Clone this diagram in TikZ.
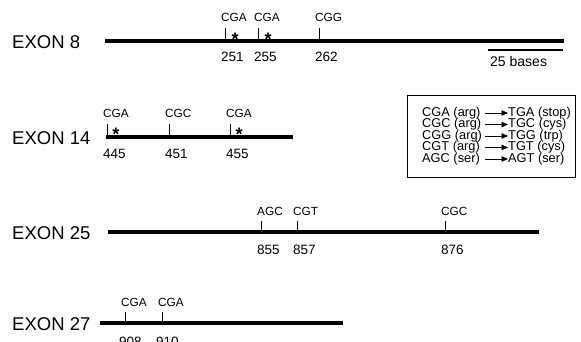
\documentclass[tikz,border=0pt]{standalone}
\usepackage{fontspec}
\setmainfont{Liberation Sans}
\usetikzlibrary{arrows.meta, positioning}

\begin{document}
\begin{tikzpicture}[x=1pt, y=-1pt,
    exon/.style={line width=3.4pt},
    site/.style={line width=1pt},
    exonname/.style={font=\fontsize{18.5}{18.5}\selectfont, anchor=west, inner sep=0pt},
    codon/.style={font=\fontsize{11.8}{11.8}\selectfont, anchor=base west, inner sep=0pt},
    residue/.style={font=\fontsize{13.5}{13.5}\selectfont, anchor=base west, inner sep=0pt},
    hit/.style={font=\fontsize{18}{18}\selectfont\bfseries, anchor=north, inner sep=0pt},
    keytext/.style={font=\fontsize{12.8}{12.8}\selectfont, anchor=west, inner sep=0pt}]
\useasboundingbox (0,0) rectangle (581,342);

% exon 8
\node[exonname] (x8) at (12,42) {EXON 8};
\coordinate (a8) at (105,41);
\coordinate (b8) at (564,41);
\draw[exon] (a8) -- (b8);
\foreach \n/\x/\c in {251/225/CGA, 255/258/CGA, 262/319/CGG}{
  \coordinate (t\n) at (\x,41);
  \draw[site] (t\n) -- ++(0,-13) coordinate (u\n);
  \node[codon] (c\n) at ([xshift=-4pt, yshift=6pt]u\n) {\c};
  \node[residue] (n\n) at ([xshift=-4pt, yshift=-21pt]t\n) {\n};
}
\node[hit] (s251) at ([xshift=10pt, yshift=8pt]t251) {*};
\node[hit] (s255) at ([xshift=10pt, yshift=8pt]t255) {*};
% scale bar
\coordinate (bar1) at (488,50);
\coordinate (bar2) at (563,50);
\draw[line width=1.5pt] (bar1) -- (bar2);
\node[residue, font=\fontsize{14}{14}\selectfont, anchor=north west] (bases) at ([xshift=2pt, yshift=-6pt]bar1) {25 bases};

% exon 14
\node[exonname] (x14) at (12,138) {EXON 14};
\coordinate (a14) at (106,137);
\coordinate (b14) at (293,137);
\draw[exon] (a14) -- (b14);
\foreach \n/\x/\c in {445/107/CGA, 451/169/CGC, 455/230/CGA}{
  \coordinate (t\n) at (\x,137);
  \draw[site] (t\n) -- ++(0,-13) coordinate (u\n);
  \node[codon] (c\n) at ([xshift=-4pt, yshift=6pt]u\n) {\c};
  \node[residue] (n\n) at ([xshift=-4pt, yshift=-21pt]t\n) {\n};
}
\node[hit] (s445) at ([xshift=9pt, yshift=9pt]t445) {*};
\node[hit] (s455) at ([xshift=9pt, yshift=9pt]t455) {*};

% mutation key
\node[draw, line width=0.9pt, minimum width=168pt, minimum height=82pt, inner sep=0pt] (key) at (491,136) {};
\foreach \i/\y/\l/\r in {1/113/{CGA (arg)}/{TGA (stop)}, 2/124.5/{CGC (arg)}/{TGC (cys)},
    3/136/{CGG (arg)}/{TGG (trp)}, 4/147.5/{CGT (arg)}/{TGT (cys)}, 5/159/{AGC (ser)}/{AGT (ser)}}{
  \node[keytext] (l\i) at (422,\y) {\l};
  \node[keytext] (r\i) at (508,\y) {\r};
  \coordinate (m\i) at (485,\y);
  \draw[line width=0.7pt, -{Triangle[length=6.5pt, width=5.5pt]}] (m\i) -- (r\i.west);
}

% exon 25
\node[exonname] (x25) at (12,233) {EXON 25};
\coordinate (a25) at (108,232);
\coordinate (b25) at (539,232);
\draw[exon] (a25) -- (b25);
\foreach \n/\x/\c in {855/261/AGC, 857/297/CGT, 876/445/CGC}{
  \coordinate (t\n) at (\x,232);
  \draw[site] (t\n) -- ++(0,-11) coordinate (u\n);
  \node[codon] (c\n) at ([xshift=-4pt, yshift=6pt]u\n) {\c};
  \node[residue] (n\n) at ([xshift=-4pt, yshift=-22pt]t\n) {\n};
}

% exon 27
\node[exonname] (x27) at (12,324) {EXON 27};
\coordinate (a27) at (100,323);
\coordinate (b27) at (343,323);
\draw[exon] (a27) -- (b27);
\foreach \n/\x/\c in {908/125/CGA, 910/162/CGA}{
  \coordinate (t\n) at (\x,323);
  \draw[site] (t\n) -- ++(0,-11) coordinate (u\n);
  \node[codon] (c\n) at ([xshift=-4pt, yshift=6pt]u\n) {\c};
  \node[residue] (n\n) at ([xshift=-6pt, yshift=-23pt]t\n) {\n};
}
\end{tikzpicture}
\end{document}
